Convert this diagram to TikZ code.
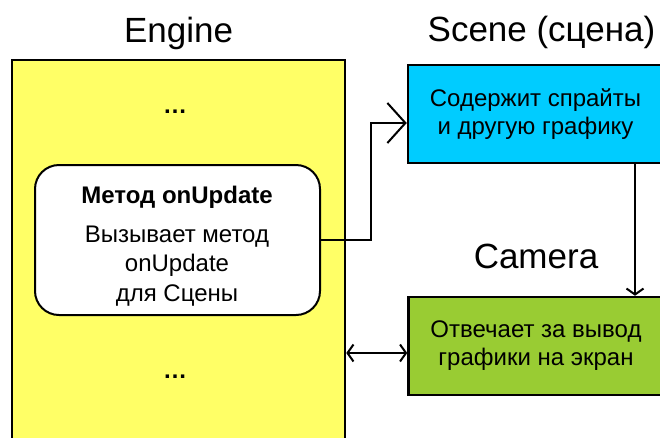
\documentclass[tikz,border=0pt]{standalone}
\usepackage{fontspec}
\setmainfont{Liberation Sans}
\usetikzlibrary{positioning,arrows.meta}
\definecolor{engineyellow}{HTML}{FFFF66}
\definecolor{scenecyan}{HTML}{00CCFF}
\definecolor{cameragreen}{HTML}{99CC33}

\tikzset{
  block/.style={draw, line width=2.5pt, inner sep=0pt, minimum width=255pt,
    minimum height=98pt, align=center, font=\fontsize{24}{28}\selectfont},
  heading/.style={font=\fontsize{35}{40}\selectfont, inner sep=0pt, anchor=base},
  link/.style={line width=2pt},
}

\begin{document}
\begin{tikzpicture}[x=1pt, y=-1pt]
    \useasboundingbox (0,0) rectangle (660,437);
    % Engine
    \node[draw, line width=2.5pt, fill=engineyellow, inner sep=0pt,
          minimum width=333pt, minimum height=390pt] (engine) at (178.5,255) {};
    \node[heading] (enginelbl) [above=16pt of engine.north, anchor=base] {Engine};
    \node[font=\fontsize{24}{28}\selectfont\bfseries] (dotsup) at (175,112) {\dots};
    \node[font=\fontsize{24}{28}\selectfont\bfseries] (dotsdown) at (175,377) {\dots};
        % onUpdate
        \node[draw, line width=2pt, fill=white, rounded corners=24pt,
              minimum width=285pt, minimum height=150pt] (method) at (177.5,240) {};
        \node[align=center, font=\fontsize{24}{29.5}\selectfont] (methodtxt) at (177,246)
            {\textbf{Метод onUpdate}\\[9pt]Вызывает метод\\onUpdate\\для Сцены};
    % Scene
    \node[block, fill=scenecyan] (scene) at (535.5,114)
        {Содержит спрайты\\и другую графику};
    \node[heading] (scenelbl) [above=22pt of scene.north, xshift=6pt, anchor=base] {Scene (сцена)};
    % Camera
    \node[block, fill=cameragreen] (camera) at (536,346)
        {Отвечает за вывод\\графики на экран};
    \node[heading] (cameralbl) [above=27pt of camera.north, anchor=base] {Camera};

    \draw[link, -{Straight Barb[length=18pt, width=40pt, line width=2pt]}]
        (method.east) -- ++(50pt,0) |- ([yshift=-9pt]scene.west);
    \draw[link, -{Straight Barb[length=6pt, width=17pt, line width=2pt]}]
        ([xshift=99.5pt]scene.south) -- ([xshift=99.5pt]scene.south |- camera.north);
    \draw[link, {Straight Barb[length=6pt, width=17pt, line width=2pt]}-{Straight Barb[length=6pt, width=17pt, line width=2pt]}]
        ([yshift=-7pt]camera.west -| engine.east) -- ([yshift=-7pt]camera.west);
\end{tikzpicture}
\end{document}
